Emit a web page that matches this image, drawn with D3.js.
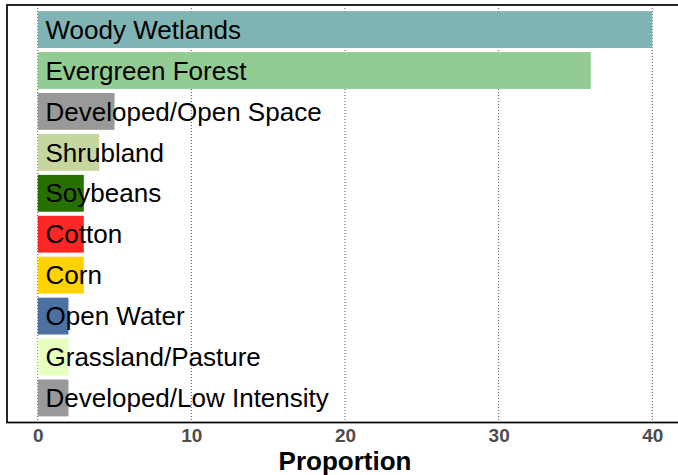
<!DOCTYPE html>
<html>
<head>
<meta charset="utf-8">
<script src="https://cdn.jsdelivr.net/npm/d3@7"></script>
<style>
  html, body { margin: 0; padding: 0; background: #fff; }
  svg { display: block; }
</style>
</head>
<body>
<svg id="chart" width="678" height="475"></svg>
<script>
const categories = ["Woody Wetlands", "Evergreen Forest", "Developed/Open Space", "Shrubland", "Soybeans", "Cotton", "Corn", "Open Water", "Grassland/Pasture", "Developed/Low Intensity"];
const values = [40, 36, 5, 4, 3, 3, 3, 2, 2, 2];
const colors = ["#80B3B3", "#93CC93", "#999999", "#C6D69F", "#267000", "#FF2626", "#FFD300", "#4D70A3", "#E8FFBF", "#999999"];
const xTicks = [0, 10, 20, 30, 40];
const xTitle = "Proportion";

const svg = d3.select("#chart");
const panel = { left: 7, right: 683, top: 5, bottom: 422.5 };

const x = d3.scaleLinear().domain([-2, 42]).range([panel.left, panel.right]);
const y = d3.scaleBand().domain(categories).range([panel.top, panel.bottom])
  .paddingInner(0.1).paddingOuter(0.15);

// gridlines
svg.append("g").selectAll("line").data(xTicks).join("line")
  .attr("x1", d => x(d)).attr("x2", d => x(d))
  .attr("y1", panel.top).attr("y2", panel.bottom)
  .attr("stroke", "#555").attr("stroke-width", 1)
  .attr("stroke-dasharray", "1,2");

const data = categories.map((c, i) => ({ c, v: values[i], col: colors[i] }));

svg.append("g").selectAll("rect").data(data).join("rect")
  .attr("x", x(0)).attr("y", d => y(d.c))
  .attr("width", d => x(d.v) - x(0))
  .attr("height", y.bandwidth())
  .attr("fill", d => d.col);

svg.append("g").selectAll("text").data(data).join("text")
  .attr("x", 45.5)
  .attr("y", d => y(d.c) + y.bandwidth() / 2 + 9.2)
  .attr("font-family", "'Liberation Sans', Arial, sans-serif")
  .attr("font-size", "26px")
  .attr("fill", "#000")
  .text(d => d.c);

// panel border
svg.append("rect")
  .attr("x", panel.left).attr("y", panel.top)
  .attr("width", panel.right - panel.left).attr("height", panel.bottom - panel.top)
  .attr("fill", "none").attr("stroke", "#000").attr("stroke-width", 1.7);

// x axis
const xAxis = d3.axisBottom(x).tickValues(xTicks).tickSize(0).tickPadding(0);
const gx = svg.append("g").attr("transform", `translate(0,${panel.bottom})`).call(xAxis);
gx.select(".domain").remove();
gx.selectAll("text")
  .attr("dy", null).attr("y", 19.4)
  .attr("font-family", "'Liberation Sans', Arial, sans-serif")
  .attr("font-size", "19px").attr("font-weight", "bold")
  .attr("fill", "#4D4D4D");

svg.append("text")
  .attr("x", (panel.left + panel.right) / 2).attr("y", 469.6)
  .attr("text-anchor", "middle")
  .attr("font-family", "'Liberation Sans', Arial, sans-serif")
  .attr("font-size", "26px").attr("font-weight", "bold")
  .attr("fill", "#000")
  .text(xTitle);
</script>
</body>
</html>
